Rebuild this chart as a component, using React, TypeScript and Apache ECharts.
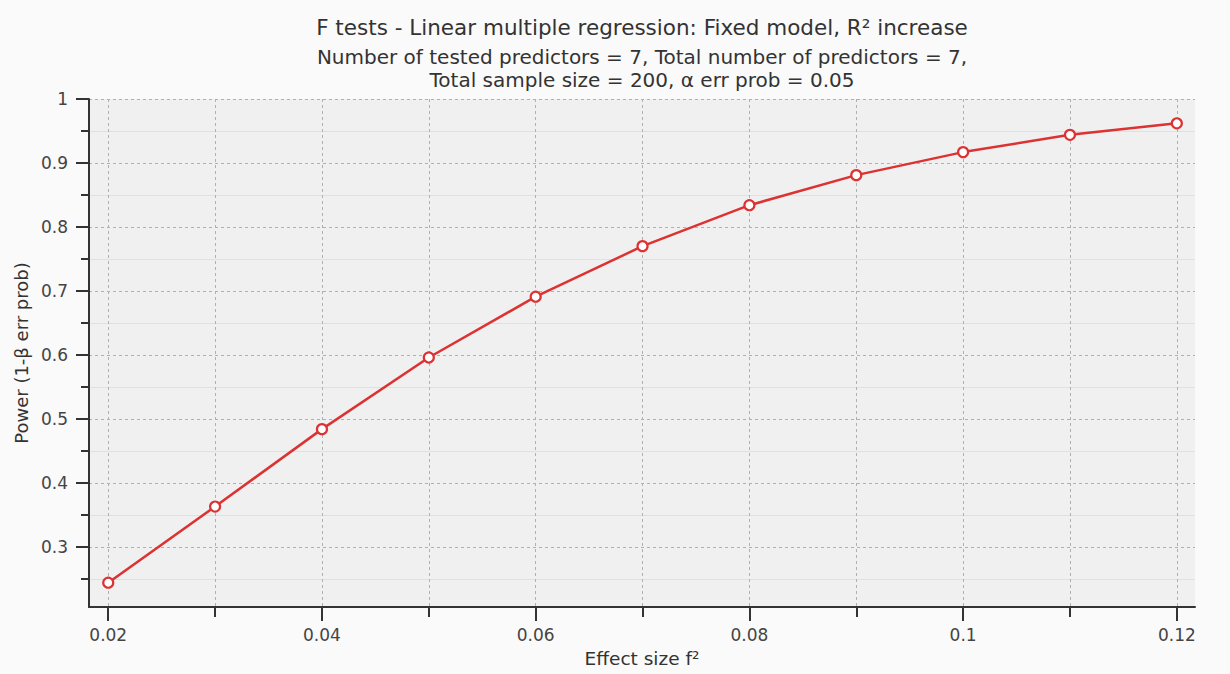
import React, { useEffect, useRef } from "react";
import * as echarts from "echarts";

const effectSizes = [0.02, 0.03, 0.04, 0.05, 0.06, 0.07, 0.08, 0.09, 0.1, 0.11, 0.12];
const powerValues = [0.244, 0.363, 0.484, 0.596, 0.691, 0.770, 0.834, 0.881, 0.917, 0.944, 0.962];
const xMajorTicks = [0.02, 0.04, 0.06, 0.08, 0.1, 0.12];
const xMinorTicks = [0.03, 0.05, 0.07, 0.09, 0.11];
const yMajorTicks = [0.3, 0.4, 0.5, 0.6, 0.7, 0.8, 0.9, 1];
const yMinorTicks = [0.25, 0.35, 0.45, 0.55, 0.65, 0.75, 0.85, 0.95];
const titleText = "F tests - Linear multiple regression: Fixed model, R² increase";
const subtitleText =
  "Number of tested predictors = 7, Total number of predictors = 7,\nTotal sample size = 200, α err prob = 0.05";
const xName = "Effect size f²";
const yName = "Power (1-β err prob)";

const FONT = "'DejaVu Sans', Verdana, sans-serif";
const fmt = (v: number) => String(+Number(v).toFixed(3));

export default function App() {
  const ref = useRef<HTMLDivElement>(null);
  useEffect(() => {
    document.body.style.margin = "0";
    const chart = echarts.init(ref.current!, null, { renderer: "svg" });
    const xMin = 0.0182, xMax = 0.1217, yMin = 0.206, yMax = 1;
    const baseX = {
      type: "value",
      min: xMin,
      max: xMax,
      position: "bottom",
    };
    const baseY = {
      type: "value",
      min: yMin,
      max: yMax,
      position: "left",
    };
    chart.setOption({
      animation: false,
      backgroundColor: "#fafafa",
      title: {
        text: titleText,
        subtext: subtitleText,
        left: 637,
        textAlign: "center",
        top: 11,
        itemGap: 7,
        textStyle: { fontFamily: FONT, fontSize: 21.5, fontWeight: "normal", color: "#333" },
        subtextStyle: { fontFamily: FONT, fontSize: 20, color: "#333", lineHeight: 23 },
      },
      grid: {
        left: 89,
        right: 35,
        top: 99,
        bottom: 67,
        show: true,
        backgroundColor: "#f0f0f0",
        borderWidth: 0,
      },
      xAxis: [
        {
          ...baseX,
          name: xName,
          nameLocation: "middle",
          nameGap: 42,
          nameTextStyle: { fontFamily: FONT, fontSize: 18.5, color: "#333" },
          axisLine: { show: true, onZero: false, lineStyle: { color: "#333", width: 2 } },
          axisTick: { show: true, customValues: xMajorTicks, length: 14, lineStyle: { color: "#333", width: 2 } },
          axisLabel: {
            customValues: xMajorTicks,
            formatter: fmt,
            fontFamily: FONT,
            fontSize: 17,
            color: "#444",
            margin: 19,
            showMinLabel: true,
            showMaxLabel: true,
          },
          splitLine: { show: false },
        },
        {
          ...baseX,
          axisLine: { show: false },
          axisTick: { show: true, customValues: xMinorTicks, length: 10, lineStyle: { color: "#333", width: 2 } },
          axisLabel: { show: false },
          splitLine: { show: false },
        },
        {
          ...baseX,
          axisLine: { show: false },
          axisTick: { show: false, customValues: effectSizes },
          axisLabel: { show: false, customValues: effectSizes },
          splitLine: { show: true, lineStyle: { color: "#b0b0b0", type: [3, 3], width: 1 } },
        },
      ],
      yAxis: [
        {
          ...baseY,
          name: yName,
          nameLocation: "middle",
          nameGap: 57,
          nameTextStyle: { fontFamily: FONT, fontSize: 18, color: "#333" },
          axisLine: { show: true, onZero: false, lineStyle: { color: "#333", width: 2 } },
          axisTick: { show: true, customValues: yMajorTicks, length: 13, lineStyle: { color: "#333", width: 2 } },
          axisLabel: {
            customValues: yMajorTicks,
            formatter: fmt,
            fontFamily: FONT,
            fontSize: 17,
            color: "#444",
            margin: 21,
          },
          splitLine: { show: true, lineStyle: { color: "#b0b0b0", type: [3, 3], width: 1 } },
        },
        {
          ...baseY,
          axisLine: { show: false },
          axisTick: { show: true, customValues: yMinorTicks, length: 8, lineStyle: { color: "#333", width: 2 } },
          axisLabel: { show: false, customValues: yMinorTicks },
          splitLine: { show: true, lineStyle: { color: "#e0e0e0", type: "solid", width: 1 } },
        },
      ],
      series: [
        {
          type: "line",
          xAxisIndex: 0,
          yAxisIndex: 0,
          data: effectSizes.map((x, i) => [x, powerValues[i]]),
          lineStyle: { color: "#dc3232", width: 2.5 },
          symbol: "circle",
          symbolSize: 10,
          itemStyle: { color: "#ffffff", borderColor: "#dc3232", borderWidth: 2.2 },
          smooth: false,
        },
      ],
    });
    return () => chart.dispose();
  }, []);
  return <div ref={ref} style={{ width: 1230, height: 674 }} />;
}
